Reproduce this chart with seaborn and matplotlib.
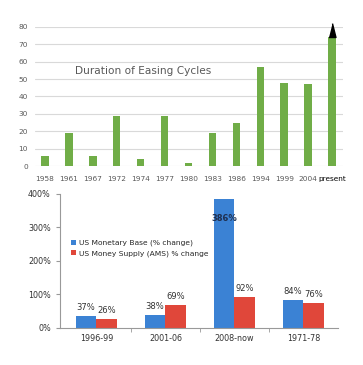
import matplotlib
matplotlib.use("Agg")
import matplotlib.pyplot as plt
import seaborn as sns
import pandas as pd

# top chart data
years = ["1958", "1961", "1967", "1972", "1974", "1977", "1980",
         "1983", "1986", "1994", "1999", "2004", "present"]
duration = [6, 19, 6, 29, 4, 29, 2, 19, 25, 57, 48, 47, 74]

# bottom chart data
periods = ["1996-99", "2001-06", "2008-now", "1971-78"]
monetary_base = [37, 38, 386, 84]
money_supply = [26, 69, 92, 76]
series_names = ["US Monetary Base (% change)", "US Money Supply (AMS) % change"]

sns.set_style("white")
plt.rcParams["font.family"] = ["DejaVu Sans"]

fig = plt.figure(figsize=(3.63, 3.65), dpi=100)

# ---- top: duration of easing cycles ----
ax1 = fig.add_axes([0.0964, 0.5452, 0.8486, 0.381])
sns.barplot(x=years, y=duration, color="#70ad47", width=0.31, saturation=1,
            linewidth=0, ax=ax1)
ax1.set_ylim(0, 80)
ax1.set_xlim(-0.42, 12.46)
ax1.set_yticks(range(0, 81, 10))
ax1.yaxis.grid(True, color="#d9d9d9", linewidth=0.8)
ax1.set_axisbelow(True)
for s in ax1.spines.values():
    s.set_visible(False)
ax1.tick_params(axis="y", length=0, labelsize=5.3, labelcolor="#595959", pad=5)
ax1.tick_params(axis="x", length=0, labelsize=5.3, labelcolor="#595959", pad=7)
ax1.get_xticklabels()[-1].set_color("black")
# arrow head on the last bar
ax1.plot([12], [duration[-1]], marker=[(-0.25, 0), (0.25, 0), (0, 1)],
         markersize=20, color="black", clip_on=False, zorder=5)
ax1.text(1.25, 54.5, "Duration of Easing Cycles", fontsize=7.6, color="#595959",
         va="center", ha="left")
ax1.set_xlabel("")
ax1.set_ylabel("")

# ---- bottom: monetary base vs money supply ----
df = pd.DataFrame({
    "period": periods * 2,
    "value": monetary_base + money_supply,
    "series": [series_names[0]] * 4 + [series_names[1]] * 4,
})
ax2 = fig.add_axes([0.165, 0.1014, 0.766, 0.3671])
sns.barplot(data=df, x="period", y="value", hue="series",
            palette=["#3b82d4", "#e0473a"], width=0.6, saturation=1,
            linewidth=0, ax=ax2)
ax2.set_ylim(0, 400)
ax2.set_xlim(-0.53, 3.5)
ax2.set_yticks([0, 100, 200, 300, 400])
ax2.set_yticklabels([f"{v}%" for v in [0, 100, 200, 300, 400]])
ax2.set_xticks([0.5, 1.5, 2.5], minor=True)
ax2.tick_params(axis="x", which="major", length=0, labelsize=5.8, labelcolor="#333333", pad=4)
ax2.tick_params(axis="x", which="minor", length=3, color="#999999", direction="out", bottom=True)
ax2.tick_params(axis="y", length=3, color="#999999", direction="out", left=True,
                labelsize=5.8, labelcolor="#333333")
for k in ["top", "right"]:
    ax2.spines[k].set_visible(False)
for k in ["left", "bottom"]:
    ax2.spines[k].set_color("#999999")
    ax2.spines[k].set_linewidth(0.8)

for cont, vals in zip(ax2.containers, [monetary_base, money_supply]):
    for bar, v in zip(cont, vals):
        x = bar.get_x() + bar.get_width() / 2
        if v > 300:
            ax2.text(x, v - 60, f"{v}%", ha="center", va="center",
                     fontsize=6, color="#1f2f4f", fontweight="bold")
        else:
            ax2.text(x, v + 12, f"{v}%", ha="center", va="bottom",
                     fontsize=6, color="#333333")

ax2.legend(loc="upper left", bbox_to_anchor=(0.03, 0.68), frameon=False,
           fontsize=5.4, handlelength=0.6, handleheight=0.6, handletextpad=0.4,
           labelspacing=0.5, borderaxespad=0)
ax2.set_xlabel("")
ax2.set_ylabel("")

fig.savefig("out.png", dpi=100, facecolor="white")
